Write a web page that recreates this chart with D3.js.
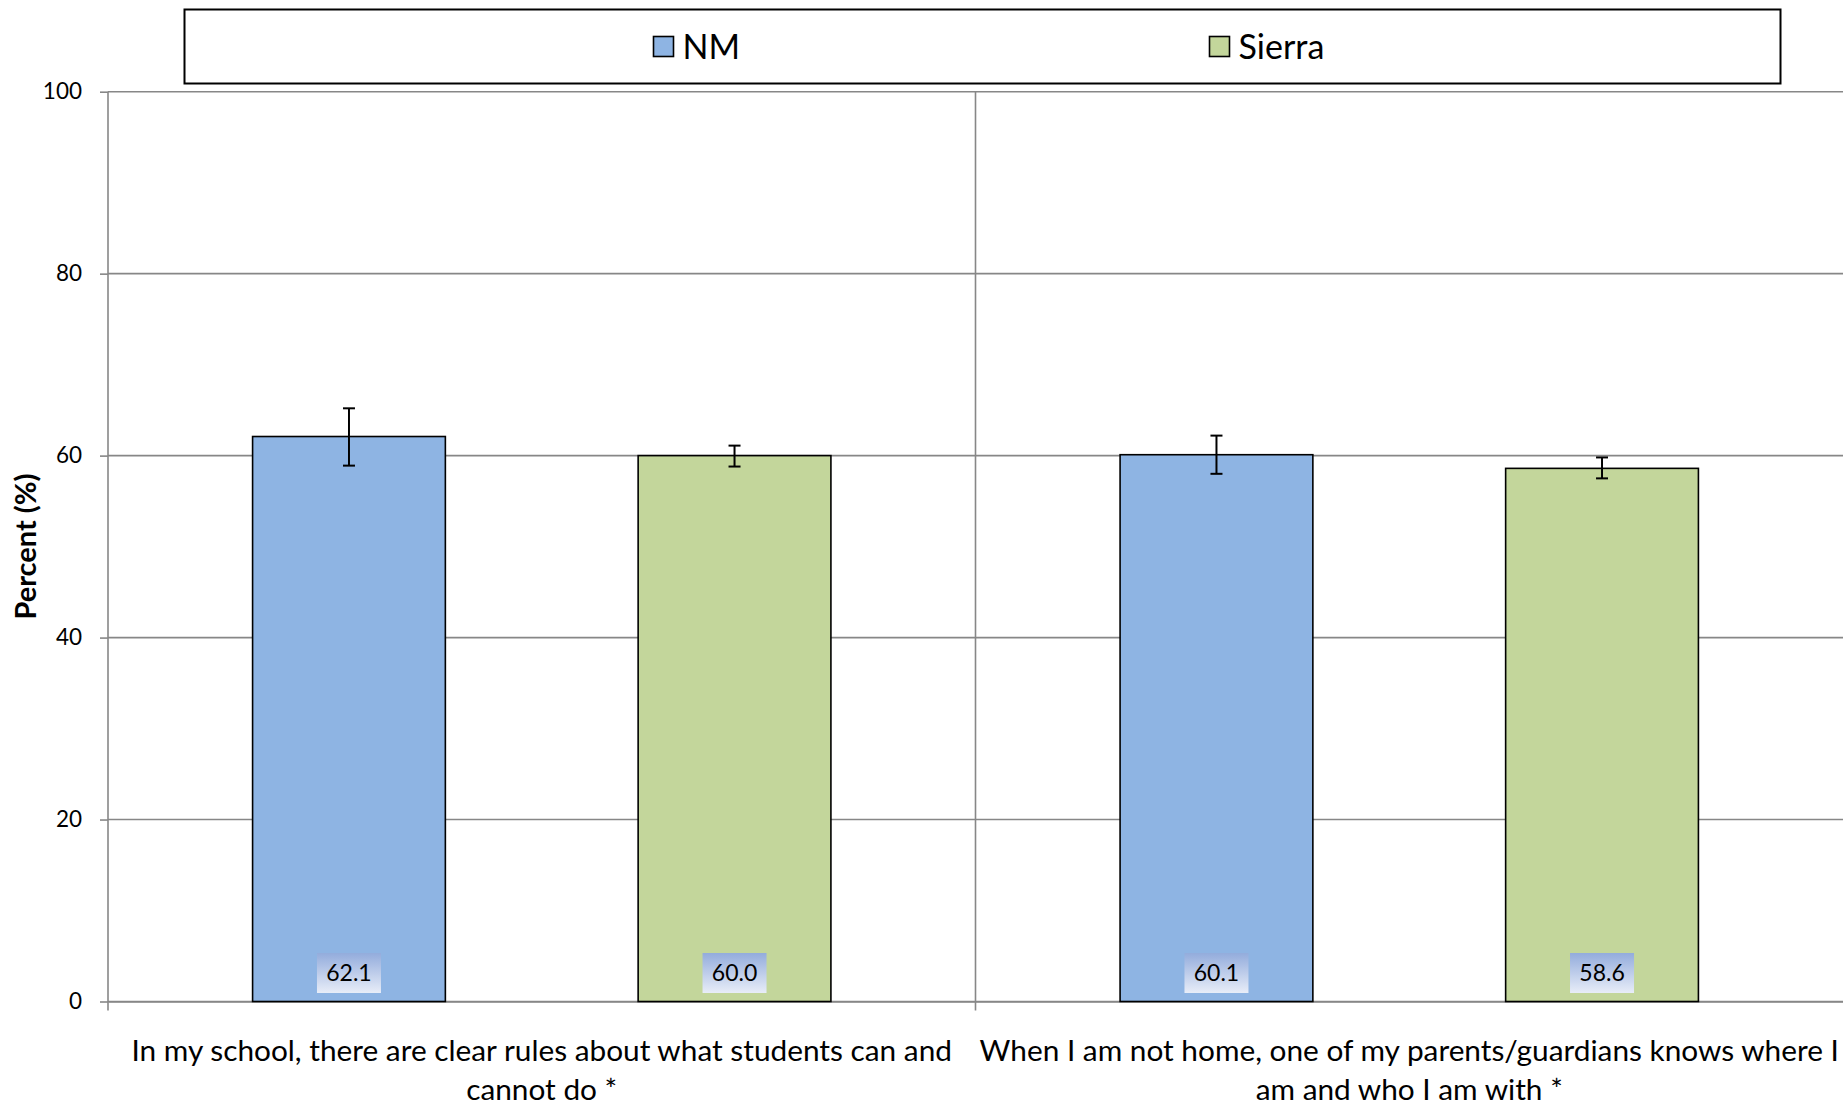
<!DOCTYPE html>
<html><head><meta charset="utf-8">
<script src="https://cdn.jsdelivr.net/npm/d3@7"></script>
<style>body{margin:0;background:#fff}svg{display:block}text{font-family:Lato,"Open Sans",sans-serif;fill:#000}</style>
</head><body>
<svg id="chart" width="1843" height="1105"></svg>
<script>
const categories = ["In my school, there are clear rules about what students can and cannot do *",
                    "When I am not home, one of my parents/guardians knows where I am and who I am with *"];
const categoryLines = [["In my school, there are clear rules about what students can and", "cannot do *"],
                       ["When I am not home, one of my parents/guardians knows where I", "am and who I am with *"]];
const seriesNames = ["NM", "Sierra"];
const nmValues = [62.1, 60.1];
const sierraValues = [60.0, 58.6];
const nmLower = [58.9, 58.0];
const nmUpper = [65.2, 62.2];
const sierraLower = [58.8, 57.5];
const sierraUpper = [61.1, 59.8];
const yTicks = [0, 20, 40, 60, 80, 100];
const yTitle = "Percent (%)";
const seriesColors = ["#8eb4e3", "#c3d69b"];

const svg = d3.select("#chart");
const L = 108, R = 1843, T = 91.7, B = 1001.5;
const gridColor = "#878787";

const rows = categories.map((c, i) => ({
  cat: c, i,
  vals: [
    {s: "NM", v: nmValues[i], lo: nmLower[i], hi: nmUpper[i]},
    {s: "Sierra", v: sierraValues[i], lo: sierraLower[i], hi: sierraUpper[i]}
  ]
}));

const y = d3.scaleLinear().domain([0, 100]).range([B, T]);
const x0 = d3.scaleBand().domain(categories).range([L, R]).paddingInner(0).paddingOuter(0);
const x1 = d3.scaleBand().domain(seriesNames).range([0, x0.bandwidth()]).paddingInner(0.5).paddingOuter(0.375);
const color = d3.scaleOrdinal().domain(seriesNames).range(seriesColors);

const defs = svg.append("defs");
const grad = defs.append("linearGradient").attr("id", "lblGrad").attr("x1", 0).attr("y1", 0).attr("x2", 0).attr("y2", 1);
grad.append("stop").attr("offset", "0%").attr("stop-color", "#93acdc");
grad.append("stop").attr("offset", "100%").attr("stop-color", "#e8edf8");

svg.append("g").selectAll("line").data(yTicks).join("line")
  .attr("x1", L).attr("x2", R).attr("y1", d => y(d)).attr("y2", d => y(d))
  .attr("stroke", gridColor).attr("stroke-width", 1.6);

svg.append("g").selectAll("line").data(categories.slice(1)).join("line")
  .attr("x1", d => x0(d)).attr("x2", d => x0(d)).attr("y1", T).attr("y2", B + 9)
  .attr("stroke", gridColor).attr("stroke-width", 1.6);

const yAxis = d3.axisLeft(y).tickValues(yTicks).tickSize(8).tickPadding(18).tickFormat(d3.format("d"));
const gy = svg.append("g").attr("transform", `translate(${L},0)`).call(yAxis);
gy.select(".domain").remove();
gy.append("line").attr("x1", 0).attr("x2", 0).attr("y1", T).attr("y2", B + 9).attr("stroke", gridColor).attr("stroke-width", 1.6);
gy.selectAll(".tick line").attr("stroke", gridColor).attr("stroke-width", 1.6);
gy.selectAll(".tick text").style("font-family", "Lato, sans-serif").style("font-size", "22.5px").attr("fill", "#000");

const xAxis = d3.axisBottom(x0).tickSize(0).tickFormat("");
const gx = svg.append("g").attr("transform", `translate(0,${B})`).call(xAxis);
gx.select(".domain").attr("stroke", gridColor).attr("stroke-width", 1.6);

const catLbl = svg.append("g").selectAll("text").data(rows).join("text")
  .attr("x", d => x0(d.cat) + x0.bandwidth() / 2)
  .attr("y", 1061)
  .attr("text-anchor", "middle")
  .style("font-size", "29.8px");
catLbl.selectAll("tspan").data(d => categoryLines[d.i]).join("tspan")
  .attr("x", function() { return d3.select(this.parentNode).attr("x"); })
  .attr("dy", (d, j) => j === 0 ? 0 : 39)
  .text(d => d);

const groups = svg.append("g").selectAll("g").data(rows).join("g")
  .attr("transform", d => `translate(${x0(d.cat)},0)`);
groups.selectAll("rect").data(d => d.vals).join("rect")
  .attr("x", d => x1(d.s)).attr("width", x1.bandwidth())
  .attr("y", d => y(d.v)).attr("height", d => y(0) - y(d.v))
  .attr("fill", d => color(d.s)).attr("stroke", "#000").attr("stroke-width", 1.6);

const eb = groups.selectAll("g.err").data(d => d.vals).join("g").attr("class", "err");
eb.append("line")
  .attr("x1", d => x1(d.s) + x1.bandwidth() / 2).attr("x2", d => x1(d.s) + x1.bandwidth() / 2)
  .attr("y1", d => y(d.lo)).attr("y2", d => y(d.hi)).attr("stroke", "#000").attr("stroke-width", 2);
eb.append("line")
  .attr("x1", d => x1(d.s) + x1.bandwidth() / 2 - 6).attr("x2", d => x1(d.s) + x1.bandwidth() / 2 + 6)
  .attr("y1", d => y(d.hi)).attr("y2", d => y(d.hi)).attr("stroke", "#000").attr("stroke-width", 2);
eb.append("line")
  .attr("x1", d => x1(d.s) + x1.bandwidth() / 2 - 6).attr("x2", d => x1(d.s) + x1.bandwidth() / 2 + 6)
  .attr("y1", d => y(d.lo)).attr("y2", d => y(d.lo)).attr("stroke", "#000").attr("stroke-width", 2);

const lbl = groups.selectAll("g.lbl").data(d => d.vals).join("g").attr("class", "lbl")
  .attr("transform", d => `translate(${x1(d.s) + x1.bandwidth() / 2},${y(0) - 28.5})`);
lbl.append("rect").attr("x", -32).attr("y", -20).attr("width", 64).attr("height", 40).attr("fill", "url(#lblGrad)");
lbl.append("text").attr("text-anchor", "middle").attr("dy", "0.36em").style("font-size", "23px")
  .text(d => d3.format(".1f")(d.v));

svg.append("text").attr("transform", `translate(26,${(T + B) / 2}) rotate(-90)`)
  .attr("text-anchor", "middle").attr("dy", "0.36em")
  .style("font-size", "29px").style("font-weight", "bold").text(yTitle);

svg.append("rect").attr("x", 184.5).attr("y", 9.5).attr("width", 1596).attr("height", 74)
  .attr("fill", "#fff").attr("stroke", "#000").attr("stroke-width", 2);
const legendX = [653.5, 1209.5];
const lg = svg.append("g").selectAll("g").data(seriesNames).join("g")
  .attr("transform", (d, i) => `translate(${legendX[i]},46.5)`);
lg.append("rect").attr("x", 0).attr("y", -10).attr("width", 20).attr("height", 20)
  .attr("fill", d => color(d)).attr("stroke", "#000").attr("stroke-width", 1.6);
lg.append("text").attr("x", 29).attr("dy", "0.36em").style("font-size", "34px").text(d => d);
</script>
</body></html>
